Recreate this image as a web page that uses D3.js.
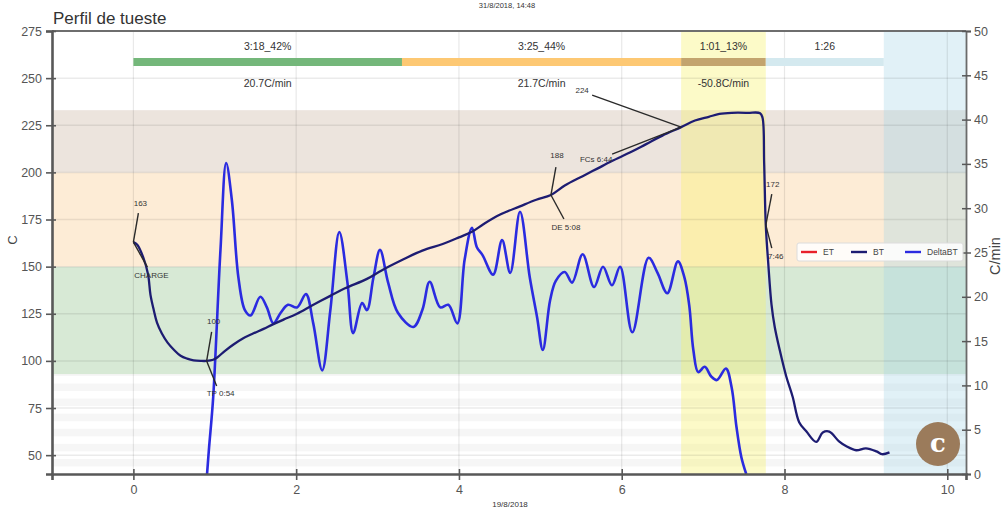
<!DOCTYPE html>
<html>
<head>
<meta charset="utf-8">
<script src="https://cdn.jsdelivr.net/npm/d3@7"></script>
<style>
  body { margin: 0; background: #fff; }
  svg { display: block; font-family: "Liberation Sans", Arial, sans-serif; }
</style>
</head>
<body>
<svg id="chart" width="1008" height="513"></svg>
<script>
// ---- data ----
const xTicks = [0, 2, 4, 6, 8, 10];
const tempTicks = [50, 75, 100, 125, 150, 175, 200, 225, 250, 275];
const rorTicks = [0, 5, 10, 15, 20, 25, 30, 35, 40, 45, 50];

// temperature zones (lower / upper limits, °C)
const tempZones = [[93, 150], [150, 200], [200, 233]];

// roast phases (minutes)
const phaseStart = [0, 3.3, 6.73, 7.77];
const phaseEnd   = [3.3, 6.73, 7.77, 9.22];
const phaseTime  = ["3:18_42%", "3:25_44%", "1:01_13%", "1:26"];
const phaseRate  = ["20.7C/min", "21.7C/min", "-50.8C/min", ""];

// shaded periods (minutes): development, cooling
const devPeriod = [6.73, 7.77];
const coolPeriod = [9.22, 10.5];

// bean temperature [min, °C]
const btCurve = [
  [0, 163], [0.05, 161.5], [0.12, 155], [0.18, 146], [0.21, 135], [0.25, 127],
  [0.29, 120.3], [0.35, 114.5], [0.42, 109.7], [0.5, 105.8], [0.58, 102.7],
  [0.66, 101.2], [0.74, 100.3], [0.83, 100], [0.9, 100], [0.98, 100.6],
  [1.03, 101.8], [1.13, 105.5], [1.23, 108.7], [1.35, 112], [1.47, 114.5],
  [1.6, 117], [1.72, 119.5], [1.85, 122], [2.01, 125], [2.2, 129.5],
  [2.42, 134.5], [2.6, 138.5], [2.87, 143.5], [3.05, 148], [3.3, 153.5],
  [3.55, 158.5], [3.8, 162], [4.0, 165.5], [4.16, 168.5], [4.3, 172.5],
  [4.5, 177.5], [4.75, 182], [4.95, 185.5], [5.13, 188], [5.3, 193],
  [5.52, 198], [5.7, 202], [5.88, 206], [6.1, 210.5], [6.3, 215],
  [6.5, 219.5], [6.73, 224], [6.9, 227.5], [7.07, 229.5], [7.2, 231],
  [7.35, 231.6], [7.55, 231.6], [7.7, 231.4], [7.73, 229], [7.75, 205],
  [7.77, 172], [7.8, 152], [7.84, 130], [7.88, 118], [7.94, 106],
  [8.02, 92], [8.1, 81], [8.18, 67.5], [8.27, 62.5], [8.39, 57],
  [8.47, 62], [8.55, 62.5], [8.67, 57.3], [8.76, 54.7], [8.88, 52.6],
  [9.0, 53.6], [9.13, 52], [9.2, 50.5], [9.29, 51.5]
];

// rate of rise [min, °C/min]
const deltaCurve = [
  [0.905, 0], [0.93, 3], [0.98, 8.6], [1.07, 25.3], [1.14, 35.1], [1.21, 30.9],
  [1.29, 22.2], [1.37, 18.5], [1.44, 17.9], [1.56, 20.0], [1.64, 18.8],
  [1.72, 17.0], [1.81, 18.2], [1.9, 19.1], [2.01, 18.8], [2.12, 20.3],
  [2.21, 17.0], [2.32, 11.7], [2.42, 18.5], [2.53, 27.3], [2.63, 21.6],
  [2.7, 15.9], [2.81, 19.3], [2.87, 18.5], [2.95, 22.2], [3.03, 25.3],
  [3.13, 21.6], [3.25, 18.2], [3.44, 16.6], [3.55, 18.5], [3.64, 21.7],
  [3.77, 18.8], [3.87, 19.1], [3.98, 17.0], [4.07, 24.2], [4.16, 27.8],
  [4.22, 25.6], [4.29, 24.7], [4.42, 22.5], [4.53, 26.4], [4.63, 22.7],
  [4.75, 29.6], [4.87, 22.2], [4.96, 17.7], [5.03, 14.0], [5.12, 19.6],
  [5.19, 21.8], [5.3, 22.8], [5.39, 21.6], [5.52, 24.8], [5.66, 21.1],
  [5.77, 23.4], [5.88, 21.3], [5.98, 23.4], [6.13, 16.0], [6.33, 24.4],
  [6.44, 22.7], [6.56, 20.4], [6.69, 24.0], [6.77, 22.2], [6.83, 19.0],
  [6.88, 14.0], [6.94, 11.5], [7.02, 12.1], [7.1, 11.0], [7.17, 10.6],
  [7.28, 11.9], [7.35, 9.8], [7.41, 5.3], [7.47, 1.9], [7.53, 0]
];

// roast events marked on the bean temperature curve
const eventTime  = [0, 0.9, 5.13, 6.73, 7.77];
const eventTemp  = [163, 100, 188, 224, 172];
const eventUpper = ["163", "100", "188", "224", "172"];
const eventLower = ["CHARGE", "TP 0:54", "DE 5:08", "FCs 6:44", "7:46"];

const legendNames = ["ET", "BT", "DeltaBT"];

// ---- layout & styles ----
const W = 1008, H = 513;
const margin = { top: 31, right: 42, bottom: 39, left: 52 };
const zoneColors = ["#d7e9d5", "#fdecd6", "#ece4dd"];
const phaseColors = ["#74b77a", "#fdc873", "#c3a46e", "#d4e9ef"];
const lineColors = { ET: "#e8202a", BT: "#1d1c72", DeltaBT: "#2b2be0" };
const axisColor = "#585858";
const tickText = "#555";

// label offsets (px) around each event point: upper text, upper leader end, lower text, lower leader end
const eventOffsets = [
  { ut: [7, -38], ul: [5, -29], lt: [18, 34], ll: [14, 25] },
  { ut: [7, -39], ul: [5, -29], lt: [14, 33], ll: [10, 25] },
  { ut: [6, -39], ul: [5, -28], lt: [15, 33], ll: [13, 24] },
  { ut: [-99, -36], ul: [-89, -32], lt: [-85, 33], ll: [-69, 27] },
  { ut: [7, -40], ul: [6, -31], lt: [10, 32], ll: [6, 23] }
];

const svg = d3.select("#chart");
const x = d3.scaleLinear().domain([-1, 10.23]).range([margin.left, W - margin.right]);
const yT = d3.scaleLinear().domain([40, 275]).range([H - margin.bottom, margin.top]);
const yR = d3.scaleLinear().domain([0, 50]).range([H - margin.bottom, margin.top]);

const x0 = margin.left, x1 = W - margin.right, y0 = margin.top, y1 = H - margin.bottom;

svg.append("defs").append("clipPath").attr("id", "plot-clip")
  .append("rect").attr("x", x0).attr("y", y0).attr("width", x1 - x0).attr("height", y1 - y0);

const plot = svg.append("g").attr("clip-path", "url(#plot-clip)");

// faint stripes in the low temperature range
plot.append("g").selectAll("rect")
  .data(d3.range(44, 93, 8))
  .join("rect")
  .attr("x", x0).attr("width", x1 - x0)
  .attr("y", d => yT(d + 4)).attr("height", d => yT(d) - yT(d + 4))
  .attr("fill", "#f6f6f6");

// temperature zones
plot.append("g").selectAll("rect")
  .data(tempZones)
  .join("rect")
  .attr("x", x0).attr("width", x1 - x0)
  .attr("y", d => yT(d[1])).attr("height", d => yT(d[0]) - yT(d[1]))
  .attr("fill", (d, i) => zoneColors[i]);

// development and cooling periods
plot.append("rect")
  .attr("x", x(devPeriod[0])).attr("width", x(devPeriod[1]) - x(devPeriod[0]))
  .attr("y", y0).attr("height", y1 - y0)
  .attr("fill", "rgba(248,242,110,0.38)");
plot.append("rect")
  .attr("x", x(coolPeriod[0])).attr("width", x(coolPeriod[1]) - x(coolPeriod[0]))
  .attr("y", y0).attr("height", y1 - y0)
  .attr("fill", "rgba(165,212,232,0.33)");

// grid
plot.append("g").selectAll("line")
  .data(tempTicks)
  .join("line")
  .attr("x1", x0).attr("x2", x1)
  .attr("y1", d => yT(d)).attr("y2", d => yT(d))
  .attr("stroke", "rgba(0,0,0,0.08)").attr("stroke-width", 1.5);
plot.append("g").selectAll("line")
  .data(xTicks)
  .join("line")
  .attr("y1", y0).attr("y2", y1)
  .attr("x1", d => x(d)).attr("x2", d => x(d))
  .attr("stroke", "rgba(0,0,0,0.09)").attr("stroke-width", 1.2);

// phase bar with durations and rates
const phaseBarY = 62;
const phases = d3.range(phaseStart.length);
plot.append("g").selectAll("rect")
  .data(phases)
  .join("rect")
  .attr("x", i => x(phaseStart[i])).attr("width", i => x(phaseEnd[i]) - x(phaseStart[i]))
  .attr("y", phaseBarY - 4).attr("height", 8)
  .attr("fill", i => phaseColors[i]);
plot.append("g").selectAll("text")
  .data(phases)
  .join("text")
  .attr("x", i => (x(phaseStart[i]) + x(phaseEnd[i])) / 2)
  .attr("y", 47)
  .attr("text-anchor", "middle").attr("dominant-baseline", "middle")
  .attr("font-size", 10.5).attr("fill", "#333")
  .text(i => phaseTime[i]);
plot.append("g").selectAll("text")
  .data(phases)
  .join("text")
  .attr("x", i => (x(phaseStart[i]) + x(phaseEnd[i])) / 2)
  .attr("y", 84)
  .attr("text-anchor", "middle").attr("dominant-baseline", "middle")
  .attr("font-size", 10.5).attr("fill", "#333")
  .text(i => phaseRate[i]);

// curves
const btLine = d3.line().x(d => x(d[0])).y(d => yT(d[1])).curve(d3.curveCatmullRom);
const rorLine = d3.line().x(d => x(d[0])).y(d => yR(d[1])).curve(d3.curveCatmullRom);

plot.append("path").datum(deltaCurve)
  .attr("d", rorLine).attr("fill", "none")
  .attr("stroke", lineColors.DeltaBT).attr("stroke-width", 2.6)
  .attr("stroke-linejoin", "round");
plot.append("path").datum(btCurve)
  .attr("d", btLine).attr("fill", "none")
  .attr("stroke", lineColors.BT).attr("stroke-width", 2.3)
  .attr("stroke-linejoin", "round");

// event annotations
const ev = plot.append("g");
eventTime.forEach((t, i) => {
  const px = x(t), py = yT(eventTemp[i]);
  const o = eventOffsets[i];
  ev.append("line").attr("x1", px).attr("y1", py)
    .attr("x2", px + o.ul[0]).attr("y2", py + o.ul[1])
    .attr("stroke", "#2a2a2a").attr("stroke-width", 1.4);
  ev.append("line").attr("x1", px).attr("y1", py)
    .attr("x2", px + o.ll[0]).attr("y2", py + o.ll[1])
    .attr("stroke", "#2a2a2a").attr("stroke-width", 1.4);
  ev.append("text").attr("x", px + o.ut[0]).attr("y", py + o.ut[1])
    .attr("text-anchor", "middle").attr("dominant-baseline", "middle")
    .attr("font-size", 8).attr("fill", "#333").text(eventUpper[i]);
  ev.append("text").attr("x", px + o.lt[0]).attr("y", py + o.lt[1])
    .attr("text-anchor", "middle").attr("dominant-baseline", "middle")
    .attr("font-size", 8).attr("fill", "#333").text(eventLower[i]);
});

// frame and axes
svg.append("line").attr("x1", x0).attr("x2", x1).attr("y1", y0).attr("y2", y0)
  .attr("stroke", "#6e6e6e").attr("stroke-width", 2.2);

const gL = svg.append("g").attr("transform", `translate(${x0},0)`)
  .call(d3.axisLeft(yT).tickValues(tempTicks).tickSize(6).tickPadding(4));
gL.select(".domain").attr("stroke", axisColor).attr("stroke-width", 2.6);
gL.selectAll(".tick line").attr("x2", -6).attr("x1", 4).attr("stroke", axisColor).attr("stroke-width", 1.6);

const gR = svg.append("g").attr("transform", `translate(${x1},0)`)
  .call(d3.axisRight(yR).tickValues(rorTicks).tickSize(5).tickPadding(3));
gR.select(".domain").attr("stroke", "#6a6a6a").attr("stroke-width", 1.8);
gR.selectAll(".tick line").attr("x1", -4).attr("x2", 5).attr("stroke", axisColor).attr("stroke-width", 1.5);

const gB = svg.append("g").attr("transform", `translate(0,${y1})`)
  .call(d3.axisBottom(x).tickValues(xTicks).tickSize(6).tickPadding(5));
gB.select(".domain").attr("stroke", axisColor).attr("stroke-width", 2.6);
gB.selectAll(".tick line").attr("y1", -5).attr("y2", 6).attr("stroke", axisColor).attr("stroke-width", 1.6);

[gL, gR, gB].forEach(g => {
  g.selectAll(".tick text").attr("fill", tickText).attr("font-size", 12.5)
    .attr("font-family", "'Liberation Sans', Arial, sans-serif");
});

// titles
svg.append("text").attr("x", 53).attr("y", 24)
  .attr("font-size", 17).attr("fill", "#333").text("Perfil de tueste");
svg.append("text").attr("x", 507).attr("y", 6)
  .attr("text-anchor", "middle").attr("dominant-baseline", "middle")
  .attr("font-size", 7.5).attr("fill", "#333").text("31/8/2018, 14:48");
svg.append("text").attr("x", 510).attr("y", 505)
  .attr("text-anchor", "middle").attr("dominant-baseline", "middle")
  .attr("font-size", 8).attr("fill", "#333").text("19/8/2018");
svg.append("text").attr("transform", "translate(14,240) rotate(-90)")
  .attr("text-anchor", "middle").attr("dominant-baseline", "middle")
  .attr("font-size", 13).attr("fill", "#444").text("C");
svg.append("text").attr("transform", "translate(996,256) rotate(-90)")
  .attr("text-anchor", "middle").attr("dominant-baseline", "middle")
  .attr("font-size", 14.5).attr("fill", "#444").text("C/min");

// legend
const lg = svg.append("g").attr("transform", `translate(797,243)`);
lg.append("rect").attr("width", 166).attr("height", 18).attr("rx", 2)
  .attr("fill", "rgba(255,255,255,0.85)").attr("stroke", "#dcdcdc");
const legendX = [4, 54, 108];
legendNames.forEach((n, i) => {
  lg.append("line").attr("x1", legendX[i]).attr("x2", legendX[i] + 16)
    .attr("y1", 9).attr("y2", 9).attr("stroke", lineColors[n]).attr("stroke-width", 2.4);
  lg.append("text").attr("x", legendX[i] + 22).attr("y", 9.5)
    .attr("dominant-baseline", "middle").attr("font-size", 8.5).attr("fill", "#444").text(n);
});

// badge
svg.append("circle").attr("cx", 938).attr("cy", 444).attr("r", 22).attr("fill", "#9b7b5b");
svg.append("text").attr("x", 938).attr("y", 445)
  .attr("text-anchor", "middle").attr("dominant-baseline", "middle")
  .attr("font-family", "'DejaVu Serif', 'Liberation Serif', serif").attr("font-weight", "bold")
  .attr("font-size", 26).attr("fill", "#fff").text("c");
</script>
</body>
</html>
